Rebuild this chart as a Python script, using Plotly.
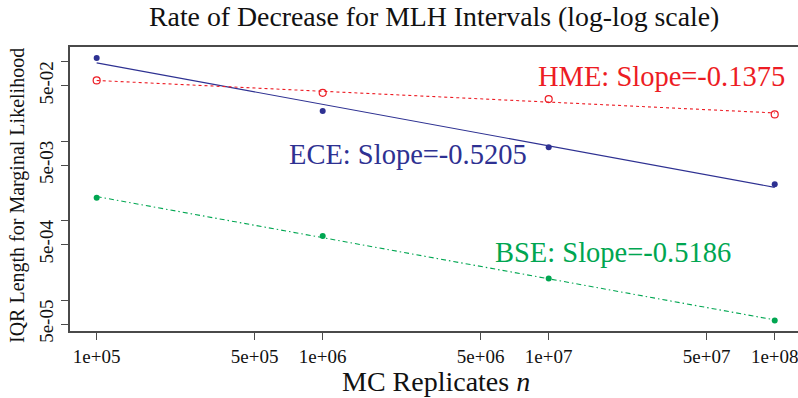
import numpy as np
import plotly.graph_objects as go

# ---- data ----
n_reps = [1e5, 1e6, 1e7, 1e8]
ece_iqr = [0.1115, 0.0239, 0.0084, 0.00287]
hme_iqr = [0.0581, 0.0406, 0.0339, 0.0217]
bse_iqr = [0.001945, 0.00064, 0.000187, 0.0000553]

slope_labels = {
    "ECE": "ECE: Slope=-0.5205",
    "HME": "HME: Slope=-0.1375",
    "BSE": "BSE: Slope=-0.5186",
}

x_tickvals = [1e5, 5e5, 1e6, 5e6, 1e7, 5e7, 1e8]
x_ticktext = ["1e+05", "5e+05", "1e+06", "5e+06", "1e+07", "5e+07", "1e+08"]
y_tickvals = [1e-1, 5e-2, 1e-2, 5e-3, 1e-3, 5e-4, 1e-4, 5e-5]
y_ticktext = ["", "5e-02", "", "5e-03", "", "5e-04", "", "5e-05"]

BLUE = "#2E3192"
RED = "#ED1C24"
GREEN = "#00A651"
FONT = "Liberation Serif"
AXCOL = "#4a4a4a"


def fit_line(x, y):
    lx, ly = np.log10(x), np.log10(y)
    b, a = np.polyfit(lx, ly, 1)
    xs = np.array([min(x), max(x)])
    return xs, 10 ** (a + b * np.log10(xs))


fig = go.Figure()

series = [
    ("ECE", ece_iqr, BLUE, "solid", dict(symbol="circle", size=6, color=BLUE)),
    ("HME", hme_iqr, RED, "3px,3px",
     dict(symbol="circle-open", size=7, color=RED, line=dict(width=1.2, color=RED))),
    ("BSE", bse_iqr, GREEN, "5px,3px,1.5px,3px", dict(symbol="circle", size=6, color=GREEN)),
]

for name, vals, col, dash, mk in series:
    fx, fy = fit_line(n_reps, vals)
    fig.add_trace(go.Scatter(x=fx, y=fy, mode="lines",
                             line=dict(color=col, width=1.1, dash=dash),
                             showlegend=False, hoverinfo="skip"))
    fig.add_trace(go.Scatter(x=n_reps, y=vals, mode="markers", marker=mk,
                             name=name, showlegend=False))

# slope annotations (log10 coordinates on log axes)
label_pos = {"ECE": (6.377, -2.173, BLUE), "HME": (7.497, -1.189, RED), "BSE": (7.285, -3.396, GREEN)}
for key, (lx, ly, col) in label_pos.items():
    fig.add_annotation(x=lx, y=ly, xref="x", yref="y", text=slope_labels[key],
                       showarrow=False, xanchor="center", yanchor="middle",
                       font=dict(family=FONT, size=28.5, color=col))

W, H = 798, 398
L, R, T, B = 70, 0, 47, 67
pw, ph = W - L - R, H - T - B

def px_x(px):
    return (px - L) / pw

def px_y(py):
    return (H - B - py) / ph

fig.add_annotation(x=px_x(434), y=px_y(17), xref="paper", yref="paper",
                   text="Rate of Decrease for MLH Intervals (log-log scale)",
                   showarrow=False, xanchor="center", yanchor="middle",
                   font=dict(family=FONT, size=27.8, color="#111"))
fig.add_annotation(x=px_x(436), y=px_y(381), xref="paper", yref="paper",
                   text="MC Replicates <i>n</i>",
                   showarrow=False, xanchor="center", yanchor="middle",
                   font=dict(family=FONT, size=28, color="#111"))
fig.add_annotation(x=px_x(17), y=px_y(196), xref="paper", yref="paper",
                   text="IQR Length for Marginal Likelihood", textangle=-90,
                   showarrow=False, xanchor="center", yanchor="middle",
                   font=dict(family=FONT, size=20, color="#111"))

fig.update_layout(
    width=W, height=H,
    margin=dict(l=L, r=R, t=T, b=B),
    paper_bgcolor="white", plot_bgcolor="white",
    xaxis=dict(type="log", range=[4.882, 8.103], tickvals=x_tickvals, ticktext=x_ticktext,
               ticks="outside", ticklen=7, tickcolor=AXCOL, tickwidth=1,
               showline=True, linecolor=AXCOL, linewidth=1.5, mirror=True,
               showgrid=False, zeroline=False, ticklabelstandoff=0,
               ticklabeloverflow="allow",
               tickfont=dict(family=FONT, size=19, color="#111")),
    yaxis=dict(type="log", range=[-4.388, -0.815], tickvals=y_tickvals, ticktext=y_ticktext,
               ticks="outside", ticklen=7, tickcolor=AXCOL, tickwidth=1,
               showline=True, linecolor=AXCOL, linewidth=1.5,
               showgrid=False, zeroline=False, tickangle=-90, ticklabelstandoff=1,
               ticklabeloverflow="allow",
               tickfont=dict(family=FONT, size=19, color="#111")),
)

fig.write_html("out.html")
